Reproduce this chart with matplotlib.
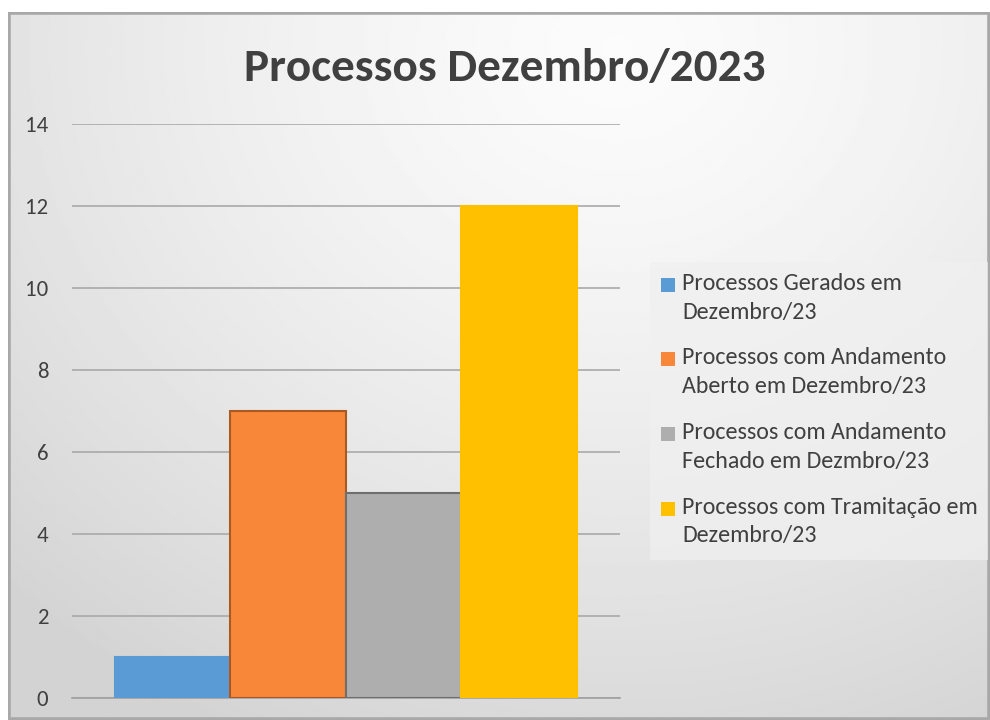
import numpy as np
import matplotlib.pyplot as plt
from matplotlib.patches import Rectangle

# Chart data
series = ["Processos Gerados em\nDezembro/23",
          "Processos com Andamento\nAberto em Dezembro/23",
          "Processos com Andamento\nFechado em Dezmbro/23",
          "Processos com Tramitação em\nDezembro/23"]
values = [1, 7, 5, 12]
colors = ["#5b9bd5", "#f8873a", "#aeaeae", "#ffc000"]
edgeColors = ["#5b9bd5", "#a85a22", "#6e6e6e", "#ffc000"]
yTicks = [0, 2, 4, 6, 8, 10, 12, 14]

plt.rcParams['font.family'] = ['Carlito', 'Lato', 'DejaVu Sans']

fig = plt.figure(figsize=(9.9, 7.2), dpi=100)
fig.patch.set_facecolor("white")

# Background with soft radial gradient and frame
bg = fig.add_axes([0.008, 0, 0.992, 0.983])
yy, xx = np.mgrid[0:1:300j, 0:1:400j]
r = np.sqrt(((xx - 0.62) / 0.9) ** 2 + ((yy - 0.05) / 1.1) ** 2)
img = 0.985 - 0.16 * np.clip(r, 0, 1) ** 1.4
bg.imshow(img, cmap="gray", vmin=0, vmax=1, aspect="auto",
          extent=(0, 1, 1, 0), interpolation="bilinear")
bg.set_xlim(0, 1)
bg.set_ylim(1, 0)
bg.axis("off")
bg.add_patch(Rectangle((0, 0), 1, 1, fill=False, edgecolor="#a8a8a8",
                       linewidth=4, transform=bg.transAxes))

# Main plot
ax = fig.add_axes([0.0727, 0.0306, 0.5535, 0.797])
ax.patch.set_alpha(0)
width = 0.2107
xPos = (np.arange(len(values)) - 1.5) * width
for i in range(len(values)):
    ax.bar(xPos[i], values[i], width=width, color=colors[i],
           edgecolor=edgeColors[i], linewidth=1.5, label=series[i], zorder=3)

ax.set_xlim(-0.5, 0.5)
ax.set_ylim(0, 14)
ax.set_yticks(yTicks)
ax.set_xticks([])
ax.grid(True, axis="y", color="#a9a9a9", linewidth=1.2, zorder=0)
for s in ["left", "right", "top"]:
    ax.spines[s].set_visible(False)
ax.spines["bottom"].set_color("#a0a0a0")
ax.spines["bottom"].set_linewidth(1.2)
ax.tick_params(axis="y", length=0, pad=17, labelsize=16.5, labelcolor="#404040")

fig.text(0.51, 0.905, "Processos Dezembro/2023", ha="center", va="center",
         fontsize=34, fontweight="bold", color="#404040")

# Legend (drawn by hand so the swatch sits at the first text line)
fig.patches.append(Rectangle((0.657, 0.222), 0.341, 0.414, facecolor="#f0f0f0",
                             edgecolor="none", alpha=0.7,
                             transform=fig.transFigure, zorder=1))
legTop = 1 - 285 / 720
legStep = 74.5 / 720
for i in range(len(series)):
    yc = legTop - i * legStep
    fig.patches.append(Rectangle((661 / 990, yc - 7 / 720), 14 / 990, 14 / 720,
                                 facecolor=colors[i], edgecolor="none",
                                 transform=fig.transFigure, zorder=2))
    fig.text(682 / 990, yc + 12 / 720, series[i], ha="left", va="top",
             fontsize=17.3, color="#404040", linespacing=1.45, zorder=3)

plt.savefig("out.png", dpi=100)
